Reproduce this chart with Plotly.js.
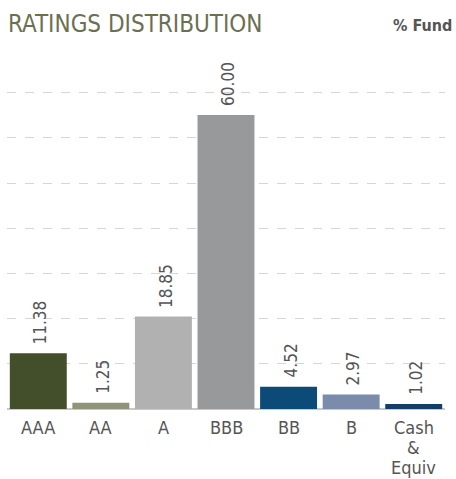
<!DOCTYPE html>
<html>
<head>
<meta charset="utf-8">
<script src="https://cdn.plot.ly/plotly-3.0.1.min.js"></script>
<style>
html,body{margin:0;padding:0;background:#fff;}
#chart{width:456px;height:479px;}
</style>
</head>
<body>
<div id="chart"></div>
<script>
// Data
const categories = ["AAA", "AA", "A", "BBB", "BB", "B", "Cash|&|Equiv"];
const fundPct = [11.38, 1.25, 18.85, 60.00, 4.52, 2.97, 1.02];
const barColors = ["#434f2b", "#8f947b", "#b1b1b1", "#98999b", "#0c4a77", "#7b8bab", "#133f66"];

const FONT = "'DejaVu Sans Condensed', 'Liberation Sans Narrow', sans-serif";
const catKeys = categories.map(c => c.replace(/\|/g, " "));

const trace = {
  type: "bar",
  x: catKeys,
  y: fundPct,
  marker: {color: barColors, line: {width: 0}},
  hoverinfo: "none"
};

const annotations = [];
// value labels
fundPct.forEach((v, i) => {
  annotations.push({
    x: catKeys[i], y: v, xref: "x", yref: "y",
    text: v.toFixed(2), textangle: -90,
    showarrow: false, xanchor: "center", yanchor: "bottom",
    yshift: 7, xshift: 2,
    font: {family: FONT, size: 17, color: "#555555"}
  });
});
// category labels (multi-line with tight spacing)
categories.forEach((c, i) => {
  c.split("|").forEach((line, j) => {
    annotations.push({
      x: catKeys[i], y: 0, xref: "x", yref: "paper",
      text: line, showarrow: false, xanchor: "center", yanchor: "top",
      yshift: -6 - 20 * j,
      font: {family: FONT, size: 18, color: "#555555"}
    });
  });
});
// "% Fund"
annotations.push({
  x: 1, y: 1, xref: "paper", yref: "paper",
  text: "<b>% Fund</b>", showarrow: false, xanchor: "right", yanchor: "middle",
  xshift: 9, yshift: 35,
  font: {family: FONT, size: 16, color: "#555555"}
});

const layout = {
  width: 456, height: 479,
  margin: {l: 7, r: 11, t: 60, b: 70},
  paper_bgcolor: "#ffffff", plot_bgcolor: "#ffffff",
  showlegend: false,
  bargap: 0.09,
  title: {
    text: "RATINGS DISTRIBUTION",
    xref: "container", yref: "container",
    x: 8 / 456, xanchor: "left",
    y: 1 - 15 / 479, yanchor: "top",
    font: {family: FONT, size: 24, color: "#6b7050"}
  },
  xaxis: {
    type: "category",
    showticklabels: false, ticks: "",
    showgrid: false, zeroline: false, showline: false,
    fixedrange: true
  },
  yaxis: {
    range: [0, 71.2],
    tick0: 0, dtick: 9.22,
    showticklabels: false, ticks: "",
    showgrid: true, gridcolor: "#d6d6d6", griddash: "dash", gridwidth: 1,
    zeroline: true, zerolinecolor: "#c8c8c8", zerolinewidth: 2,
    showline: false, fixedrange: true
  },
  annotations: annotations
};

Plotly.newPlot("chart", [trace], layout, {displayModeBar: false, staticPlot: true});
</script>
</body>
</html>
